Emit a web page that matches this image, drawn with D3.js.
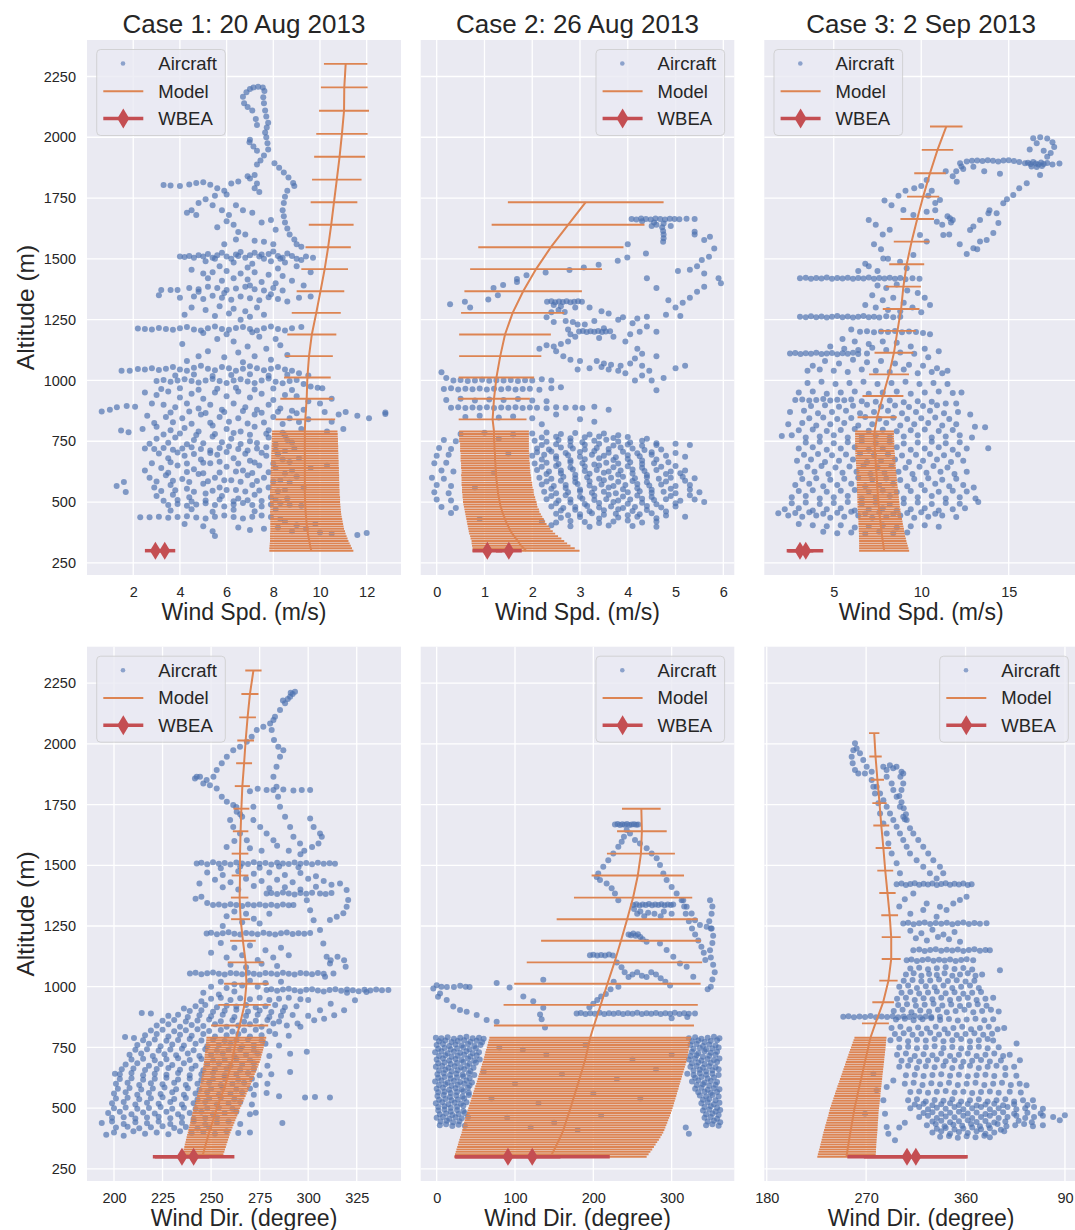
<!DOCTYPE html>
<html>
<head>
<meta charset="utf-8">
<script src="https://cdn.jsdelivr.net/npm/d3@7"></script>
<style>
body { margin: 0; background: #fff; }
</style>
</head>
<body>
<svg id="chart" width="1075" height="1230"></svg>
<script>
// titles and labels
var titles = ["Case 1: 20 Aug 2013", "Case 2: 26 Aug 2013", "Case 3: 2 Sep 2013"];
var yTicks = [250, 500, 750, 1000, 1250, 1500, 1750, 2000, 2250];
var spd1Ticks = [2, 4, 6, 8, 10, 12];
var spd2Ticks = [0, 1, 2, 3, 4, 5, 6];
var spd3Ticks = [5, 10, 15];
var dir1Ticks = [200, 225, 250, 275, 300, 325];
var dir2Ticks = [0, 100, 200, 300];
var dir3Ticks = [180, 270, 360, 450];
var dir3TickLabels = ["180", "270", "360", "90"];

// model levels (m)
var modelAltLow = [300,310,320,330,340,350,360,370,380,390,400,410,420,430,440,450,460,470,480,490,500,510,520,530,540,550,560,570,580,590,600,610,620,630,640,650,660,670,680,690,700,710,720,730,740,750,760,770,780,790];
var altUp1 = [840,925,1012,1100,1189,1278,1367,1458,1548,1640,1733,1826,1920,2014,2109,2205,2302];
var altUp2 = [840,925,1012,1100,1189,1278,1367,1458,1548,1640,1733];
var altUp3 = [849,936,1025,1114,1204,1294,1386,1478,1571,1664,1756,1852,1948,2044];

// model wind speed (m/s) and spread
var spd1Val = [9.63,9.6,9.58,9.56,9.54,9.52,9.5,9.48,9.47,9.45,9.44,9.43,9.42,9.41,9.4,9.39,9.38,9.38,9.37,9.37,9.36,9.36,9.36,9.35,9.35,9.35,9.35,9.35,9.35,9.35,9.35,9.35,9.35,9.35,9.35,9.35,9.35,9.35,9.35,9.35,9.35,9.35,9.35,9.35,9.35,9.35,9.35,9.35,9.35,9.35,
  9.37,9.43,9.46,9.53,9.65,9.84,10.02,10.2,10.35,10.48,10.6,10.72,10.84,10.94,11.03,11.04,11.1];
var spd1Err = [1.8,1.77,1.74,1.71,1.68,1.66,1.64,1.62,1.6,1.58,1.57,1.56,1.55,1.54,1.53,1.52,1.52,1.51,1.51,1.5,1.5,1.5,1.5,1.49,1.49,1.49,1.48,1.48,1.48,1.47,1.47,1.47,1.46,1.46,1.46,1.45,1.45,1.45,1.44,1.44,1.44,1.43,1.43,1.43,1.42,1.42,1.42,1.41,1.41,1.4,
  1.28,1.13,1.0,1.02,1.05,1.05,1.02,1.0,0.97,0.96,1.0,1.06,1.09,1.1,1.07,1.0,0.93];
var spd2Val = [1.87,1.82,1.77,1.73,1.7,1.66,1.62,1.58,1.55,1.52,1.5,1.47,1.45,1.43,1.41,1.39,1.37,1.36,1.34,1.33,1.32,1.31,1.3,1.29,1.28,1.28,1.27,1.26,1.26,1.25,1.25,1.24,1.24,1.24,1.23,1.23,1.23,1.22,1.22,1.22,1.22,1.21,1.21,1.21,1.21,1.2,1.2,1.2,1.2,1.2,
  1.17,1.2,1.25,1.33,1.43,1.59,1.81,2.08,2.39,2.75,3.12];
var spd2Err = [1.12,1.07,1.03,1.0,0.97,0.95,0.92,0.9,0.88,0.86,0.85,0.83,0.82,0.81,0.8,0.79,0.78,0.78,0.77,0.77,0.77,0.76,0.76,0.75,0.75,0.75,0.74,0.74,0.74,0.73,0.73,0.73,0.72,0.72,0.72,0.72,0.72,0.72,0.72,0.72,0.72,0.72,0.72,0.72,0.72,0.73,0.73,0.73,0.73,0.73,
  0.71,0.75,0.79,0.86,0.96,1.08,1.23,1.38,1.52,1.6,1.63];
var spd3Val = [7.88,7.86,7.84,7.82,7.8,7.78,7.76,7.75,7.73,7.72,7.7,7.68,7.67,7.65,7.63,7.62,7.6,7.59,7.57,7.56,7.55,7.54,7.53,7.52,7.51,7.5,7.49,7.48,7.47,7.47,7.46,7.45,7.44,7.43,7.42,7.41,7.4,7.39,7.38,7.37,7.36,7.35,7.35,7.34,7.34,7.34,7.33,7.33,7.33,7.33,
  7.48,7.81,8.16,8.44,8.64,8.85,8.98,9.17,9.45,9.77,10.11,10.5,10.93,11.43];
var spd3Err = [1.43,1.41,1.39,1.37,1.35,1.34,1.32,1.31,1.3,1.29,1.28,1.27,1.26,1.25,1.24,1.23,1.22,1.22,1.21,1.2,1.2,1.19,1.19,1.18,1.18,1.17,1.17,1.16,1.16,1.15,1.14,1.14,1.14,1.13,1.13,1.13,1.13,1.13,1.13,1.13,1.13,1.12,1.12,1.12,1.12,1.12,1.11,1.11,1.11,1.11,
  1.12,1.17,1.14,1.11,1.05,1.05,1.0,1.0,1.02,0.96,0.92,0.9,0.9,0.93];

// model wind direction (degree) and spread
var dir1Val = [245.5,245.8,246.2,246.5,246.9,247.2,247.6,247.9,248.3,248.6,249,249.4,249.8,250.2,250.6,251,251.4,251.8,252.2,252.6,253,253.5,253.9,254.4,254.8,255.3,255.7,256.2,256.6,257.1,257.5,257.9,258.2,258.6,258.9,259.3,259.6,260,260.3,260.7,261,261.2,261.4,261.7,261.9,262.1,262.3,262.6,262.8,263,
  264.7,267.2,268.2,267.8,266.4,265.2,264.7,264.9,264.9,265.2,265.6,266.1,267,267.8,268.8,270,271.8];
var dir1Err = [10.5,10.55,10.6,10.65,10.7,10.75,10.8,10.85,10.9,10.95,11,11.1,11.2,11.3,11.4,11.5,11.6,11.7,11.8,11.9,12,12.1,12.2,12.3,12.4,12.5,12.6,12.7,12.8,12.9,13,13.15,13.3,13.45,13.6,13.75,13.9,14.05,14.2,14.35,14.5,14.6,14.7,14.8,14.9,15,15.1,15.2,15.3,15.4,
  14.7,13.5,11.5,9.2,6.6,4.9,4.5,4.3,4.3,4.0,4.1,3.9,4.1,4.3,4.3,4.4,4.2];
var dir2Val = [145.3,147,148.6,150.2,151.8,153.3,154.8,156.3,157.8,159.2,160.6,161.7,162.7,163.7,164.7,165.7,166.7,167.8,168.8,169.8,170.8,171.8,172.7,173.7,174.6,175.6,176.6,177.5,178.5,179.4,180.4,181.3,182.3,183.2,184.1,185.1,186,186.9,187.8,188.8,189.7,190.4,191.1,191.8,192.5,193.2,193.9,194.6,195.3,196,
  200.8,209.4,218,227,235.3,243.2,250.8,256.8,260.8,262,261.3];
var dir2Err = [122.8,123.6,124.3,125,125.6,126.2,126.8,127.4,127.9,128.3,128.7,129,129.3,129.5,129.7,129.9,130.1,130.2,130.3,130.4,130.4,130.4,130.4,130.3,130.3,130.3,130.2,130.2,130.2,130.1,130,130,130,130,130,130,130,130,130,130,129.9,129.8,129.7,129.6,129.4,129.2,129,128.9,128.8,128.7,
  127.7,124,119,112,102,90,75.5,59,43.4,31.7,24.7];
var dir3Val = [252.2,252.5,252.9,253.2,253.6,253.9,254.3,254.6,255,255.3,255.7,256.1,256.5,256.8,257.2,257.6,258,258.4,258.7,259.1,259.5,260,260.5,261,261.5,262,262.4,262.9,263.4,263.9,264.4,264.9,265.4,265.9,266.4,266.9,267.4,267.9,268.4,268.9,269.4,269.9,270.4,270.9,271.4,271.9,272.4,272.9,273.4,273.9,
  278.4,285.4,290.2,292.7,292.7,291.3,289.3,287.3,285.6,283.7,282.1,280.2,278.5,277.3];
var dir3Err = [26.4,26.2,26,25.7,25.5,25.3,25.1,24.9,24.7,24.6,24.4,24.2,23.9,23.7,23.4,23.2,23,22.7,22.5,22.3,22.2,21.9,21.7,21.4,21.2,20.9,20.6,20.4,20.1,19.9,19.6,19.3,19.1,18.8,18.5,18.3,18,17.8,17.5,17.3,17,16.7,16.5,16.2,16,15.7,15.4,15.1,14.8,14.5,
  12.2,9.8,8.3,8.6,8.6,7.6,7.4,7.2,7.0,7.2,6.5,6.0,5.6,4.7];

// WBEA surface stations at 300 m
var wbeaAlt = 300;
var wbeaSpd1 = [2.95, 3.35], wbeaSpd1Err = [0.45, 0.45];
var wbeaSpd2 = [1.06, 1.51], wbeaSpd2Err = [0.31, 0.27];
var wbeaSpd3 = [3.07, 3.4], wbeaSpd3Err = [0.76, 1.0];
var wbeaDir1 = [235, 241], wbeaDir1Err = [14, 21];
var wbeaDir2 = [91, 122], wbeaDir2Err = [67, 99];
var wbeaDir3 = [307, 315], wbeaDir3Err = [54, 47];

// aircraft observations [value, altitude]
var air1Spd = [[6.7,2167],[6.85,2185],[7.0,2198],[7.15,2205],[7.35,2208],[7.55,2205],[7.62,2190],[7.57,2165],[7.6,2140],[7.65,2110],[7.7,2085],[7.78,2060],[7.72,2040],[7.65,2020],[7.7,2000],[7.75,1975],[7.78,1950],[7.6,1925],[7.45,1905],[7.3,1888],[6.75,2140],[6.9,2125],[7.1,2110],[7.25,2075],[7.3,2050],[7.0,1990],[6.98,1980],[7.15,1962],[7.3,1945],
[8.05,1893],[8.25,1875],[8.45,1855],[8.65,1835],[8.85,1812],[8.9,1800],[8.6,1780],[8.5,1755],[8.45,1730],[8.4,1700],[8.45,1675],[8.5,1650],[8.6,1625],[8.7,1600],[8.9,1580],[9.0,1560],[9.2,1550],
[3.3,1804],[3.6,1802],[4.0,1800],[4.4,1806],[4.7,1812],[5.0,1815],[5.3,1805],[5.6,1790],[5.9,1780],[6.2,1810],[6.5,1818],[6.9,1840],[7.2,1845],[7.0,1830],[7.3,1810],[7.2,1790],[7.4,1775],[6.0,1765],[5.5,1760],[5.1,1745],[4.8,1730],[4.5,1700],[4.3,1690],[4.7,1680],[5.4,1720],[5.8,1700],[6.1,1680],[6.4,1720],[6.7,1700],[7.1,1690],[7.5,1650],[7.9,1660],[8.1,1620],[6.3,1640],[6.5,1610],[6.8,1600],[7.2,1575],[7.6,1570],[8.0,1560],[6.4,1580],[5.9,1560],[5.6,1630],[6.0,1655],
[4.0,1510],[4.2,1508],[4.4,1512],[4.6,1505],[4.8,1515],[5.0,1510],[5.2,1520],[5.4,1505],[5.6,1515],[5.8,1525],[6.0,1510],[6.2,1500],[6.4,1518],[6.6,1528],[6.8,1505],[7.0,1515],[7.2,1525],[7.4,1510],[7.6,1500],[7.8,1520],[8.0,1530],[8.2,1512],[8.4,1505],[8.6,1522],[8.8,1512],[9.0,1500],[9.2,1495],[9.4,1510],[9.7,1505],[5.1,1490],[6.3,1485],[7.1,1480],[7.9,1490],[8.5,1485],[5.7,1470],[6.9,1465],[8.2,1460],[9.0,1470],[9.6,1445],
[4.5,1455],[5.0,1440],[5.4,1445],[6.0,1450],[6.6,1440],[7.2,1445],[7.8,1435],[8.4,1430],[5.2,1420],[5.8,1410],[6.3,1420],[6.9,1415],[7.5,1405],[8.1,1400],[8.8,1410],[9.3,1390],[3.2,1372],[3.6,1372],[3.9,1372],[4.4,1380],[4.8,1375],[5.2,1385],[5.6,1380],[6.0,1372],[6.4,1378],[6.8,1385],[7.2,1375],[7.6,1370],[8.0,1380],[8.4,1370],[3.1,1350],[4.0,1340],[4.6,1345],[5.0,1335],[5.4,1348],[5.8,1340],[6.2,1332],[6.6,1345],[7.0,1338],[7.4,1330],[7.8,1342],[8.2,1335],[8.6,1325],[9.1,1340],[9.6,1345],
[4.5,1300],[5.1,1290],[5.7,1305],[6.3,1295],[6.8,1285],[7.3,1300],[4.2,1270],[5.5,1265],[6.1,1275],[6.6,1250],[7.0,1262],[7.6,1270],
[2.2,1214],[2.5,1212],[2.8,1210],[3.1,1216],[3.4,1212],[3.7,1208],[4.0,1215],[4.3,1220],[4.6,1210],[4.9,1205],[5.2,1215],[5.5,1222],[5.8,1212],[6.1,1208],[6.4,1216],[6.7,1220],[7.0,1212],[7.3,1205],[7.6,1215],[7.9,1222],[8.2,1212],[8.5,1205],[8.8,1215],[9.2,1220],[5.0,1195],[6.0,1190],[7.1,1198],
[4.1,1150],[5.6,1170],[6.3,1160],[6.9,1140],[7.4,1180],[8.1,1170],[8.3,1145],[5.2,1120],[6.5,1115],[7.7,1130],[4.8,1100],[5.9,1095],[7.2,1100],[8.6,1105],[4.3,1080],[6.7,1075],[7.9,1085],
[2.2,1047],[2.5,1045],[2.8,1050],[3.1,1043],[3.4,1048],[3.7,1055],[4.0,1045],[4.3,1040],[4.6,1052],[4.9,1060],[5.2,1048],[5.5,1042],[5.8,1055],[6.1,1050],[6.4,1040],[6.7,1048],[7.0,1058],[7.3,1050],[7.6,1042],[7.9,1048],[8.2,1055],[8.5,1045],[8.8,1040],[9.1,1030],[9.5,1020],[1.5,1040],[1.85,1040],
[3.0,998],[3.3,1002],[3.6,995],[3.9,1000],[4.2,1005],[4.5,998],[4.8,992],[5.1,1000],[5.4,1006],[5.7,998],[6.0,990],[6.3,1000],[6.6,1005],[6.9,996],[7.2,990],[7.5,1000],[7.8,1008],[8.1,995],[8.4,988],[8.7,998],[9.0,1002],[9.3,985],[9.6,975],[9.9,970],[10.1,968],
[2.5,950],[3.0,940],[3.5,955],[4.0,930],[4.5,945],[5.0,925],[5.5,950],[6.0,935],[6.5,955],[7.0,930],[7.5,945],[8.0,920],[8.5,940],[9.0,935],[9.5,915],[10.0,905],[10.5,925],[2.8,905],[3.3,900],[3.8,890],[4.3,905],[4.8,885],[5.3,900],[5.8,880],[6.3,905],[6.8,890],[7.3,880],[7.8,900],[8.3,885],[8.8,875],[9.3,880],[10.2,870],[0.65,872],[1.0,880],[1.3,890],[1.72,895],[2.08,892],[11.1,870],[11.6,855],[12.1,845],[12.8,868],[12.8,862],[10.8,860],[2.6,855],[3.4,850],[4.1,845],[4.9,860],[5.7,850],[6.5,845],[7.2,860],[8.0,850],[8.7,845],[9.5,840],[10.5,830],[1.48,794],[1.8,787],[2.4,800],[3.0,810],[3.6,795],[4.2,805],[4.8,790],[5.4,815],[6.0,800],[6.6,790],[7.2,810],[7.8,795],[8.4,785],[9.2,800],[10.3,790],[11.0,800],
[2.5,720],[2.9,718],[3.3,722],[3.7,715],[4.1,720],[4.5,725],[4.9,718],[5.3,712],[5.7,722],[6.1,728],[6.5,718],[6.9,712],[7.3,720],[7.7,725],[8.1,715],[8.5,710],[8.9,720],[3.0,760],[3.8,765],[4.6,755],[5.4,770],[6.2,760],[7.0,750],[7.8,765],[8.6,755],[3.5,680],[4.2,690],[4.9,675],[5.6,695],[6.3,680],[7.0,670],[7.7,690],[8.4,675],[9.1,680],[3.2,640],[3.9,650],[4.6,635],[5.3,660],[6.0,645],[6.7,630],[7.4,650],[8.1,640],[8.8,630],[9.6,640],[10.3,650],[2.7,600],[3.4,610],[4.1,595],[4.8,615],[5.5,600],[6.2,590],[6.9,610],[7.6,600],[8.3,590],[9.0,605],[2.5,630],[1.29,566],[1.6,582],[1.68,541],[2.9,560],[3.6,570],[4.3,555],[5.0,575],[5.7,560],[6.4,550],[7.1,570],[7.8,560],[8.5,550],[9.3,560],
[3.5,488],[3.9,492],[4.3,485],[4.7,490],[5.1,495],[5.5,488],[5.9,482],[6.3,490],[6.7,496],[7.1,488],[7.5,482],[7.9,490],[8.3,495],[8.7,488],[9.2,485],[3.0,525],[3.7,530],[4.4,520],[5.1,535],[5.8,525],[6.5,515],[7.2,530],[7.9,520],[8.6,515],[2.3,437],[2.7,437],[3.1,440],[3.5,435],[3.9,438],[4.3,442],[4.7,436],[5.1,432],[5.5,440],[5.9,445],[6.3,438],[6.7,432],[7.1,440],[7.5,445],[7.9,438],[8.3,430],[3.6,465],[4.5,470],[5.4,460],[6.3,468],[7.2,462],[8.1,470],[4.2,410],[5.0,400],[5.4,380],[5.5,360],[6.5,395],[7.0,385],[7.6,390],[8.2,395],[8.8,380],[9.4,390],[10.0,375],[10.5,370],[11.6,365],[12.0,373],[9.0,405],[9.8,410],[8.5,420]];
var air1SpdCore = [[3.3,505],[3.9,508],[4.5,502],[5.1,506],[5.7,510],[6.3,503],[6.9,507],[7.5,504],[8.1,509],
[3.2,545],[3.8,548],[4.6,542],[5.4,546],[6.0,550],[6.8,543],[7.4,547],[8.2,544],
[3.0,585],[3.7,588],[4.4,582],[5.2,586],[5.9,590],[6.6,583],[7.3,587],[8.0,584],[8.7,580],
[3.5,620],[4.3,624],[5.0,618],[5.7,622],[6.4,626],[7.1,619],[7.8,623],[8.5,617],
[2.8,660],[3.6,664],[4.3,658],[5.0,662],[5.7,666],[6.5,659],[7.2,663],[8.0,657],[8.7,665],
[3.1,700],[3.9,704],[4.6,698],[5.3,702],[6.0,706],[6.8,699],[7.5,703],[8.2,697],
[2.7,740],[3.5,744],[4.3,738],[5.0,742],[5.8,746],[6.6,739],[7.3,743],[8.1,737],[8.8,745],
[3.3,778],[4.0,782],[4.7,776],[5.5,780],[6.3,784],[7.0,777],[7.7,781],[8.5,775],
[2.9,825],[3.7,828],[4.5,822],[5.3,826],[6.1,830],[6.9,823],[7.6,827],[8.4,821],[9.1,829],
[3.6,868],[4.4,872],[5.1,866],[5.9,870],[6.7,874],[7.5,867],[8.2,871],[9.0,865],
[3.2,965],[4.0,968],[4.8,962],[5.6,966],[6.4,970],[7.2,963],[8.0,967],[8.8,961],
[3.8,1020],[4.6,1024],[5.4,1018],[6.2,1022],[7.0,1026],[7.8,1019],[8.6,1023],
[5.5,1500],[6.5,1512],[7.5,1518],[8.3,1500],[4.8,1365],[5.9,1360],[7.0,1390],[7.9,1355]];

var air2Spd = [[4.08,1664],[4.18,1662],[4.28,1666],[4.38,1664],[4.48,1662],[4.58,1666],[4.68,1664],[4.78,1662],[4.88,1665],[4.98,1664],[5.08,1663],[5.23,1665],[5.4,1664],[4.3,1655],[4.55,1650],[4.75,1645],
[4.72,1630],[4.74,1615],[4.75,1600],[4.75,1585],[4.74,1570],[4.6,1640],[4.5,1635],[4.9,1635],[5.4,1612],[5.4,1600],[5.6,1578],[5.72,1591],[5.81,1543],[5.7,1509],[5.55,1495],[5.45,1470],[5.3,1455],[5.05,1450],[5.6,1440],[5.9,1420],[5.95,1400],[5.6,1385],[5.45,1365],[5.3,1340],[5.15,1320],[5.0,1300],[4.85,1330],[4.6,1380],[4.4,1420],[4.0,1560],
[0.28,1313],[0.59,1324],[0.7,1300],[1.08,1333],[1.19,1380],[1.28,1350],[1.39,1393],[1.68,1417],[1.68,1405],[1.88,1433],[2.28,1444],[2.78,1454],[3.08,1465],[3.39,1476],[3.79,1492],[3.99,1506],[4.38,1522],
[2.31,1324],[2.4,1326],[2.48,1322],[2.56,1325],[2.64,1323],[2.72,1326],[2.8,1322],[2.88,1324],[2.96,1326],[3.04,1324],[2.45,1310],[2.6,1305],[2.9,1300],
[3.2,1300],[3.45,1285],[3.6,1275],[3.9,1260],[4.2,1255],[4.4,1262],[4.8,1270],[5.1,1265],[3.1,1230],[3.3,1245],[3.5,1215],[3.8,1250],[4.1,1235],[4.4,1222],[4.6,1200],[4.05,1190],[4.25,1200],[3.7,1180],[3.4,1175],[3.95,1160],
[2.98,1201],[3.06,1203],[3.14,1199],[3.22,1202],[3.3,1200],[3.38,1203],[3.46,1199],[3.54,1201],[3.63,1202],
[2.4,1280],[2.55,1290],[2.68,1282],[2.3,1260],[2.45,1240],[2.7,1245],[2.85,1240],[2.95,1230],[2.75,1210],[2.8,1190],[2.9,1180],[2.75,1160],[2.6,1150],[2.45,1140],[2.3,1145],[2.15,1130],[2.5,1120],[2.65,1100],[2.8,1085],[3.0,1080],[3.35,1080],[3.5,1070],[3.65,1065],[3.85,1060],[4.05,1070],[3.95,1030],[3.8,1040],[3.6,1045],[3.45,1055],[3.2,1050],[2.95,1045],
[4.2,1130],[4.3,1110],[4.15,1090],[4.3,1060],[4.45,1040],[4.3,1020],[4.15,1000],[4.5,1000],[4.6,960],[4.75,1010],[5.0,1050],[5.2,1060],[4.6,1100],
[0.1,1034],[0.2,1010],[0.35,1000],[0.5,1002],[0.65,998],[0.8,1000],[0.95,1003],[1.1,999],[1.25,1001],[1.4,1000],[1.55,1002],[1.7,998],[1.85,1001],[2.0,1000],[2.2,1005],[2.4,1000],[0.15,965],[0.3,968],[0.45,963],[0.6,966],[0.75,964],[0.9,967],[1.05,963],[1.2,966],[1.35,964],[1.5,967],[1.65,963],[1.8,965],[1.95,966],[2.15,962],[2.4,968],[2.6,972],[0.2,920],[0.5,925],[0.8,918],[1.1,922],[1.4,920],[1.7,924],[2.0,918],[2.3,915],[0.3,888],[0.45,890],[0.6,887],[0.75,889],[0.9,888],[1.05,890],[1.2,887],[1.35,889],[1.5,888],[1.65,890],[1.8,887],[1.95,889],[2.1,888],[2.3,886],[2.5,890],[2.7,888],[2.9,889],[3.05,887],[3.3,892],[3.6,880],[0.6,850],[0.9,855],[1.3,848],[1.6,852],[2.0,845],[2.5,860],[3.0,840],[3.3,830],[2.2,820],
[0.5,780],[1.0,785],[1.6,778],[2.0,782],[2.3,786],[2.6,780],[2.9,784],[3.2,778],[3.5,782],[3.8,775],
[0.15,755],[0.4,750],[2.05,752],[2.3,748],[2.55,755],[2.8,750],[3.05,746],[3.3,752],[3.55,756],[3.8,749],[4.05,745],[4.3,752],[4.6,742],[5.0,740],[5.3,735],
[0.05,722],[0.3,718],[2.1,720],[2.35,716],[2.6,724],[2.85,720],[3.1,716],[3.35,722],[3.6,718],[3.85,724],[4.1,720],[4.35,714],[4.7,716],
[0.0,690],[0.25,694],[2.0,690],[2.25,695],[2.5,688],[2.75,692],[3.0,686],[3.25,694],[3.5,690],[3.75,684],[4.0,692],[4.25,688],[4.5,694],[4.8,690],[5.2,686],
[-0.05,660],[0.2,662],[2.05,658],[2.3,662],[2.55,656],[2.8,664],[3.05,660],[3.3,654],[3.55,662],[3.8,658],[4.05,664],[4.3,656],[4.55,660],[4.85,664],
[0.1,630],[0.35,626],[2.1,632],[2.35,626],[2.6,630],[2.85,634],[3.1,628],[3.35,632],[3.6,626],[3.85,630],[4.1,634],[4.35,628],[4.6,632],[4.9,626],[5.2,630],
[-0.1,600],[0.15,596],[2.15,600],[2.4,596],[2.65,604],[2.9,598],[3.15,602],[3.4,596],[3.65,600],[3.9,604],[4.15,598],[4.4,602],[4.65,596],[4.9,600],[5.15,604],[5.4,598],
[0.0,570],[0.3,566],[2.2,572],[2.45,566],[2.7,570],[2.95,574],[3.2,568],[3.45,572],[3.7,566],[3.95,570],[4.2,574],[4.45,568],[4.7,572],[5.0,566],[5.3,570],
[-0.05,540],[0.25,536],[2.25,542],[2.5,536],[2.75,540],[3.0,544],[3.25,538],[3.5,542],[3.75,536],[4.0,540],[4.25,544],[4.5,538],[4.75,542],[5.0,536],[5.5,540],
[0.0,510],[0.3,506],[2.3,512],[2.55,506],[2.8,510],[3.05,514],[3.3,508],[3.55,512],[3.8,506],[4.05,510],[4.3,514],[4.55,508],[4.8,512],[5.1,505],[5.6,500],[5.4,510],
[0.1,480],[0.4,476],[2.4,482],[2.65,476],[2.9,480],[3.15,484],[3.4,478],[3.65,482],[3.9,476],[4.15,480],[4.4,484],[4.7,478],[5.0,482],
[0.3,455],[2.5,452],[2.75,446],[3.0,450],[3.25,454],[3.5,448],[3.75,452],[4.0,446],[4.25,450],[4.5,454],[4.8,445],[5.2,440],
[2.2,420],[2.5,416],[2.8,422],[3.1,418],[3.4,414],[3.7,420],[4.0,424],[4.3,416],[4.6,420],
[2.4,405],[2.8,400],[3.2,398],[3.6,404],[4.1,402],[4.6,398],
[0.8,560],[1.2,620],[1.5,700],[0.9,430],[1.3,760]];
var air2SpdCore = [[2.2,765],[2.5,768],[2.8,762],[3.1,766],[3.4,770],[3.7,763],[4.0,767],[4.4,760],
[2.2,735],[2.5,738],[2.8,732],[3.1,736],[3.4,740],[3.7,733],[4.0,737],[4.3,731],[4.6,735],
[2.1,705],[2.4,708],[2.7,702],[3.0,706],[3.3,710],[3.6,703],[3.9,707],[4.2,701],[4.5,705],[5.0,702],
[2.2,675],[2.5,678],[2.8,672],[3.1,676],[3.4,680],[3.7,673],[4.0,677],[4.3,671],[4.6,675],
[2.2,645],[2.5,648],[2.8,642],[3.1,646],[3.4,650],[3.7,643],[4.0,647],[4.3,641],[4.7,645],[5.0,648],
[2.3,615],[2.6,618],[2.9,612],[3.2,616],[3.5,620],[3.8,613],[4.1,617],[4.4,611],[4.8,615],[5.1,618],
[2.3,585],[2.6,588],[2.9,582],[3.2,586],[3.5,590],[3.8,583],[4.1,587],[4.4,581],[4.8,585],[5.2,588],
[2.4,555],[2.7,558],[3.0,552],[3.3,556],[3.6,560],[3.9,553],[4.2,557],[4.5,551],[4.9,555],[5.3,552],
[2.4,525],[2.7,528],[3.0,522],[3.3,526],[3.6,530],[3.9,523],[4.2,527],[4.5,521],[4.9,525],[5.3,528],
[2.5,495],[2.8,498],[3.1,492],[3.4,496],[3.7,500],[4.0,493],[4.3,497],[4.6,491],[5.0,495],
[2.6,465],[2.9,468],[3.2,462],[3.5,466],[3.8,470],[4.1,463],[4.4,467],[4.8,461],
[2.6,435],[3.0,438],[3.4,432],[3.8,436],[4.2,440],[4.6,433]];

var air3Spd = [[15.93,1893],[16.1,1895],[16.25,1890],[16.4,1898],[16.55,1892],[16.7,1888],[16.85,1896],[17.0,1890],[17.2,1894],[17.5,1888],[17.9,1892],[16.3,1880],[16.6,1878],[16.9,1882],
[16.4,1996],[16.8,2000],[17.2,1995],[17.5,1980],[17.6,1960],[17.4,1935],[17.2,1920],[17.0,1945],[16.6,1975],[16.2,1950],
[12.6,1900],[12.9,1903],[13.2,1905],[13.5,1902],[13.8,1906],[14.1,1903],[14.4,1900],[14.7,1904],[15.0,1906],[15.3,1902],[15.6,1898],[12.3,1880],[12.0,1860],[11.8,1840],
[15.26,1763],[16.03,1811],[16.79,1845],[14.69,1729],[14.31,1688],[14.41,1647],[14.12,1606],[13.74,1578],[13.36,1571],[12.98,1544],[12.79,1619],[12.98,1633],[13.36,1660],[13.84,1688],[10.31,1824],[11.07,1742],[12.03,1817],[12.98,1879],[12.22,1893],[11.64,1667],[11.8,1660],[11.5,1675],[11.7,1650],
[15.6,1790],[14.9,1745],[13.9,1700],[13.2,1540],[12.6,1520],[12.2,1560],[11.6,1600],[11.2,1640],[10.8,1700],[10.6,1780],[11.4,1860],[12.4,1870],[13.6,1860],[14.5,1850],
[8.98,1701],[9.55,1680],[10.31,1694],[10.89,1653],[11.26,1598],[10.31,1571],[9.93,1598],[9.55,1516],[9.17,1461],[8.79,1488],[7.83,1502],
[7.0,1660],[7.4,1640],[7.8,1600],[8.2,1620],[7.3,1560],[7.7,1540],[8.1,1500],[7.0,1470],[7.5,1450],[6.4,1450],[6.8,1480],[7.9,1740],[8.3,1720],[8.7,1760],[9.1,1780],[9.6,1790],[10.0,1800],[10.4,1760],[10.8,1730],
[3.07,1420],[3.4,1422],[3.7,1418],[4.0,1421],[4.3,1419],[4.6,1423],[4.9,1418],[5.2,1421],[5.5,1419],[5.8,1422],[6.1,1418],[6.4,1421],[6.7,1419],[7.0,1423],[7.3,1418],[7.6,1421],[7.9,1419],[8.2,1422],[8.5,1418],[8.8,1421],[9.1,1416],[9.5,1420],[9.9,1418],
[7.5,1390],[8.0,1380],[8.6,1395],[9.2,1370],[9.8,1360],[10.2,1340],[10.5,1310],[7.2,1350],[7.8,1330],[8.4,1340],[9.0,1320],[9.5,1300],[6.8,1310],[7.4,1300],[8.1,1290],[8.8,1285],[10.0,1280],
[3.07,1262],[3.4,1260],[3.7,1264],[4.0,1260],[4.3,1263],[4.6,1259],[4.9,1262],[5.2,1265],[5.5,1260],[5.8,1263],[6.1,1259],[6.4,1262],[6.7,1265],[7.0,1260],[7.3,1262],[7.6,1259],[8.0,1264],[8.4,1260],[8.8,1262],
[6.5,1200],[6.9,1202],[7.3,1198],[7.7,1201],[8.1,1199],[8.5,1203],[8.9,1198],[9.3,1201],[9.7,1199],[10.1,1195],[10.5,1190],[6.0,1210],
[2.5,1111],[2.8,1113],[3.1,1109],[3.4,1112],[3.7,1110],[4.0,1114],[4.3,1109],[4.6,1111],[4.9,1113],[5.2,1108],[5.5,1112],[5.8,1110],[6.1,1114],[6.4,1109],[6.9,1111],
[5.5,1170],[6.2,1160],[7.0,1150],[7.8,1160],[8.6,1155],[9.4,1140],[10.2,1130],[11.0,1120],[4.8,1140],[5.6,1130],[6.4,1125],[7.2,1135],[8.0,1125],[8.8,1115],[9.6,1110],[10.4,1095],[4.5,1080],[5.3,1070],[6.1,1085],[6.9,1075],[7.7,1080],[8.5,1070],[9.3,1065],[10.1,1060],[10.9,1050],[11.5,1040],[3.8,1060],
[3.5,1040],[4.2,1045],[5.0,1040],[5.8,1035],[6.6,1045],[7.4,1040],[8.2,1035],[9.0,1045],[9.8,1030],[10.6,1035],[11.2,1030],
[3.5,990],[4.3,995],[5.1,985],[5.9,990],[6.7,995],[7.5,985],[8.3,990],[9.1,995],[9.9,985],[10.7,990],[11.5,985],
[3.0,950],[3.8,955],[4.6,945],[5.4,950],[6.2,955],[7.0,945],[7.8,950],[8.6,955],[9.4,945],[10.2,950],[11.0,955],[11.8,948],[12.3,950],
[2.8,920],[3.2,922],[3.6,918],[4.0,920],[4.4,924],[4.8,918],[5.2,921],[5.6,919],[6.0,922],[6.6,915],[7.4,912],[8.2,918],[9.0,910],[9.8,915],[10.6,912],[11.4,905],[12.0,905],
[2.5,870],[3.3,875],[4.1,865],[4.9,870],[5.7,875],[6.5,865],[7.3,870],[8.1,875],[8.9,865],[9.7,870],[10.5,875],[11.3,865],[12.1,870],[12.8,860],
[2.4,820],[3.2,825],[4.0,815],[4.8,820],[5.6,825],[6.4,815],[7.2,820],[8.0,825],[8.8,815],[9.6,820],[10.4,825],[11.2,815],[12.0,820],[13.07,810],[13.65,808],
[2.03,772],[2.6,775],[3.4,765],[4.2,770],[5.0,775],[5.8,765],[6.6,770],[7.4,775],[8.2,765],[9.0,770],[9.8,775],[10.6,765],[11.4,770],[12.2,775],[12.9,765],
[3.0,720],[3.8,725],[4.6,715],[5.4,720],[6.2,725],[7.0,715],[7.8,720],[8.6,725],[9.4,715],[10.2,720],[11.0,725],[11.8,715],[12.6,720],[13.83,721],
[2.9,670],[3.7,675],[4.5,665],[5.3,670],[6.1,675],[6.9,665],[7.7,670],[8.5,675],[9.3,665],[10.1,670],[10.9,675],[11.7,665],[12.4,670],
[3.1,620],[3.9,625],[4.7,615],[5.5,620],[6.3,625],[7.1,615],[7.9,620],[8.7,625],[9.5,615],[10.3,620],[11.1,625],[11.9,615],[12.6,625],
[2.8,570],[3.6,575],[4.4,565],[5.2,570],[6.0,575],[6.8,565],[7.6,570],[8.4,575],[9.2,565],[10.0,570],[10.8,575],[11.6,565],[12.4,570],[13.0,560],
[2.6,520],[3.4,525],[4.2,515],[5.0,520],[5.8,525],[6.6,515],[7.4,520],[8.2,525],[9.0,515],[9.8,520],[10.6,525],[11.4,515],[12.2,520],[13.1,515],[13.26,500],
[2.2,470],[3.0,475],[3.8,465],[4.6,470],[5.4,475],[6.2,465],[7.0,470],[7.8,475],[8.6,465],[9.4,470],[10.2,475],[11.0,465],[11.8,470],[12.5,475],
[1.83,454],[2.4,445],[3.2,440],[4.0,445],[4.8,435],[5.6,440],[6.4,445],[7.2,435],[8.0,440],[8.8,445],[9.6,435],[10.4,440],[11.2,445],[12.0,438],
[3.0,410],[3.8,405],[4.6,400],[5.4,405],[6.2,395],[7.0,400],[7.8,405],[8.6,395],[9.4,400],[10.2,405],[11.0,398],
[4.4,378],[5.2,372],[6.0,375],[6.8,370],[7.6,378],[8.4,372],[9.2,375]];
var air3SpdCore = [[3.7,895],[4.5,898],[5.3,892],[6.1,896],[6.9,900],[7.7,893],[8.5,897],[9.3,891],[10.1,895],[10.9,898],
[3.6,845],[4.4,848],[5.2,842],[6.0,846],[6.8,850],[7.6,843],[8.4,847],[9.2,841],[10.0,845],[10.8,848],[11.6,842],
[3.0,795],[3.8,798],[4.6,792],[5.4,796],[6.2,800],[7.0,793],[7.8,797],[8.6,791],[9.4,795],[10.2,798],[11.0,792],[11.8,796],
[3.4,745],[4.2,748],[5.0,742],[5.8,746],[6.6,750],[7.4,743],[8.2,747],[9.0,741],[9.8,745],[10.6,748],[11.4,742],[12.2,746],
[3.3,695],[4.1,698],[4.9,692],[5.7,696],[6.5,700],[7.3,693],[8.1,697],[8.9,691],[9.7,695],[10.5,698],[11.3,692],[12.1,696],
[3.5,645],[4.3,648],[5.1,642],[5.9,646],[6.7,650],[7.5,643],[8.3,647],[9.1,641],[9.9,645],[10.7,648],[11.5,642],
[3.2,595],[4.0,598],[4.8,592],[5.6,596],[6.4,600],[7.2,593],[8.0,597],[8.8,591],[9.6,595],[10.4,598],[11.2,592],[12.0,596],
[3.0,545],[3.8,548],[4.6,542],[5.4,546],[6.2,550],[7.0,543],[7.8,547],[8.6,541],[9.4,545],[10.2,548],[11.0,542],[11.8,546],[12.6,543],
[2.6,495],[3.4,498],[4.2,492],[5.0,496],[5.8,500],[6.6,493],[7.4,497],[8.2,491],[9.0,495],[9.8,498],[10.6,492],[11.4,496],[12.2,493],
[2.8,455],[3.6,458],[4.4,452],[5.2,456],[6.0,460],[6.8,453],[7.6,457],[8.4,451],[9.2,455],[10.0,458],[10.8,452]];

var air1Dir = [[293.2,2215],[290.7,2194],[288.1,2167],[285.5,2139],[282.9,2112],[280.4,2084],[276.9,2070],[273.5,2057],[270.9,2029],[268.4,2009],[264.9,1988],[261.4,1974],[258.1,1947],[255.5,1920],[252.9,1892],[251.2,1864],[247.7,1851],[244.3,1864],[241.7,1857],[292,2205],[291,2210],[289.5,2185],[287,2178],
[282.1,2098],[281.2,2057],[282.4,2016],[284.6,1988],[287.2,1974],[285.5,1947],[283.7,1906],[282.1,1864],[283.7,1823],[284.5,1782],[285.5,1741],[288.1,1700],[290.7,1658],[292.4,1617],[295.8,1590],
[301,1693],[302.8,1658],[306.1,1631],[307,1617],[305.3,1590],[302,1575],[298,1560],
[278.6,1810],[282.1,1810],[287.2,1812],[292.4,1808],[296.7,1810],[301,1810],[274,1815],[270,1805],
[242.6,1864],[246,1837],[249.4,1830],[252.9,1816],[255.5,1782],[258.1,1762],[261.4,1748],[263.2,1720],[259.8,1686],[261.4,1658],[264.9,1631],[268.4,1603],[271.8,1686],[275.3,1658],[278.6,1631],[282.1,1603],[271.8,1741],[266,1700],[262,1600],[258,1575],[270,1570],[276,1560],[284,1580],[290,1560],[296,1545],[263,1740],[265,1710],
[242.6,1507],[245,1510],[248,1504],[251,1512],[254,1506],[257,1509],[260,1503],[263,1511],[266,1507],[269,1505],[272,1512],[275,1506],[278,1509],[281,1503],[284,1510],[287,1507],[290,1505],[293,1511],[296,1506],[299,1509],[302,1504],[305,1510],[308,1506],[311,1508],[313.8,1506],[265,1495],[275,1490],[285,1495],[295,1492],[255,1488],
[248,1470],[256,1460],[264,1475],[272,1465],[280,1470],[288,1460],[296,1468],[304,1455],[252,1440],[260,1430],[268,1445],[276,1435],[284,1440],[292,1430],[300,1445],[308,1435],[256,1410],[264,1400],[272,1415],[280,1405],[288,1410],[296,1400],[304,1412],[244,1425],[312,1420],
[278.6,1384],[281,1386],[284,1382],[287,1388],[290,1384],[293,1380],[296,1386],[299,1383],[302,1387],[306.1,1384],[309,1382],[312,1386],
[251,1336],[254,1338],[257,1334],[260,1340],[263,1336],[266,1332],[269,1338],[272,1335],[275,1339],[278,1334],[281,1337],[284,1333],[287,1338],[290,1335],[292.4,1336],[242,1362],[245,1370],[248,1345],
[262,1310],[268,1300],[258,1290],[272,1280],[280,1300],[266,1265],[275,1260],[256,1250],
[247.7,1219],[250,1222],[253,1216],[256,1220],[259,1224],[262,1218],[265,1215],[268,1221],[271,1219],[274,1216],[277,1222],[280,1218],[283,1215],[286,1220],[289,1223],[292,1217],[295,1220],[298,1218],[301,1221],
[255,1180],[262,1160],[270,1170],[278,1150],[286,1160],[250,1140],[258,1120],[266,1130],[274,1110],[282,1120],[290,1130],[260,1090],[268,1080],[276,1095],[284,1085],
[239.1,1054],[242,1057],[245,1051],[248,1055],[251,1059],[254,1053],[257,1050],[260,1056],[263,1054],[266,1051],[269,1057],[272,1053],[275,1050],[278,1056],[281,1054],[284,1051],[287,1057],[290,1053],[293,1050],[296,1056],[299,1054],[302,1051],[305,1056],[308,1053],[313,1054],
[278.6,986],[281,990],[284,983],[287,988],[290,992],[293,985],[296,981],[299,987],[302,990],[305,984],[308,980],[311,986],[314,990],[317,983],[320,988],[323,985],[326,981],[329,987],[332,984],[335,989],[338,985],[341.3,986],[320,975],[330,978],
[255,1020],[262,1010],[270,1025],[278,1015],[286,1020],[250,1000],[258,995],[266,1005],[274,1000],[246,975],[254,968],[262,980],
[299.3,1356],[301,1315],[302.8,1274],[306.1,1233],[307.8,1178],[309.5,1123],[311.2,1096],[308.7,1041],[318.5,1109],[319.3,1082],[311.6,1109],[315.1,1123],[324.1,944],[318.5,903],[313.4,882],[308.2,868],[303.1,862],[294.5,848],[306.1,903],[311.6,930],[316.4,1425],[319.8,1398],[320.6,1357],[319.8,1329],[318.1,1302],[314.7,1288],[311.2,1275],
[250,950],[255,955],[260,945],[265,952],[270,948],[275,955],[280,945],[285,950],[290,955],[296,948],[245,940],[300,945],
[242,920],[247,925],[253,915],[258,922],[263,918],[268,925],[273,915],[278,920],[283,925],[288,915],[294,920],[236,910],
[228,880],[233,885],[238,875],[244,882],[250,878],[256,885],[262,875],[268,880],[274,885],[280,875],[286,880],[292,884],[300,880],[214.3,892],[219,890],
[222,840],[228,845],[234,835],[240,842],[246,838],[252,845],[258,835],[264,840],[270,845],[276,835],[282.1,848],[289,840],[296,835],
[210.3,789],[205.7,793],[216,800],[222,805],[228,795],[234,802],[240,798],[246,805],[252,795],[258,800],[264,805],[270,795],[276,800],[283,805],[290,798],
[212,760],[218,765],[224,755],[230,762],[236,758],[242,765],[248,755],[254,760],[260,765],[266,755],[272,760],[278,765],[285,758],
[208,720],[214,725],[220,715],[226,722],[232,718],[238,725],[244,715],[250,720],[256,725],[262,715],[268,720],[274,725],[280,715],[290.7,724],[299.3,732],
[206,680],[212,685],[218,675],[224,682],[230,678],[236,685],[242,675],[248,680],[254,685],[260,675],[266,680],[272,685],[279,675],
[200.5,642],[203,640],[209,645],[215,635],[221,642],[227,638],[233,645],[239,635],[245,640],[251,645],[257,635],[263,640],[269,645],[275,635],[281,640],[290.7,649],
[201,600],[207,605],[213,595],[219,602],[225,598],[231,605],[237,595],[243,600],[249,605],[255,595],[261,600],[267,605],[273,595],[279,600],
[200,560],[206,565],[212,555],[218,562],[224,558],[230,565],[236,555],[242,560],[248,565],[254,555],[260,560],[266,565],[272,555],[278.6,562],[285,549],[298.4,544],[303.5,546],[311.2,544],
[199,520],[205,525],[211,515],[217,522],[223,518],[229,525],[235,515],[241,520],[247,525],[253,515],[259,520],[265,525],[271,515],
[197,480],[203,485],[209,475],[215,482],[221,478],[227,485],[233,475],[239,480],[245,485],[251,475],[257,480],[263,485],[270,475],[273,481],
[193.7,439],[199,445],[205,435],[211,442],[217,438],[223,445],[229,435],[235,440],[241,445],[247,435],[253,440],[259,445],[265,435],[286.7,439],
[196,390],[200,400],[205,386],[210,405],[216,395],[222,400],[228,392],[234,405],[240,398],[246,402],[252,395],[258,405],[264,398],[270,400]];
var air1DirCore = [[239,900],[245,903],[251,897],[257,901],[263,905],[269,898],[275,902],[281,896],[287,900],
[225,860],[231,863],[237,857],[243,861],[249,865],[255,858],[261,862],[267,856],[273,860],[279,863],[285,857],
[219,820],[225,823],[231,817],[237,821],[243,825],[249,818],[255,822],[261,816],[267,820],[273,823],[280,817],
[215,780],[221,783],[227,777],[233,781],[239,785],[245,778],[251,782],[257,776],[263,780],[269,783],[276,777],
[211,740],[217,743],[223,737],[229,741],[235,745],[241,738],[247,742],[253,736],[259,740],[265,743],[272,737],
[209,700],[215,703],[221,697],[227,701],[233,705],[239,698],[245,702],[251,696],[257,700],[263,703],[270,697],
[204,660],[210,663],[216,657],[222,661],[228,665],[234,658],[240,662],[246,656],[252,660],[258,663],[265,657],[272,661],
[203,620],[209,623],[215,617],[221,621],[227,625],[233,618],[239,622],[245,616],[251,620],[257,623],[264,617],[271,621],
[202,580],[208,583],[214,577],[220,581],[226,585],[232,578],[238,582],[244,576],[250,580],[256,583],[263,577],[270,581],
[201,540],[207,543],[213,537],[219,541],[225,545],[231,538],[237,542],[243,536],[249,540],[255,543],[262,537],
[200,500],[206,503],[212,497],[218,501],[224,505],[230,498],[236,502],[242,496],[248,500],[254,503],[261,497],
[199,460],[205,463],[211,457],[217,461],[223,465],[229,458],[235,462],[241,456],[247,460],[253,463],
[201,420],[207,423],[213,417],[219,421],[225,425],[231,418],[237,422],[243,416],[249,420]];

var air2Dir = [[227.6,1668],[231,1670],[234,1666],[237,1669],[240,1667],[243,1670],[246,1666],[249,1668],[252,1669],[255,1667],[257.4,1668],
[242.6,1645],[239.1,1617],[236.2,1597],[231.9,1576],[225.5,1549],[219.1,1521],[212.7,1494],[206.3,1466],[204.3,1452],[208.5,1439],[217,1425],[223.4,1405],[227.6,1384],[231.9,1356],
[246.8,1631],[253.2,1604],[259.5,1590],[268.1,1570],[274.5,1549],[280.9,1529],[285.1,1501],[289.4,1466],[293.6,1439],[300,1411],[306.4,1384],[312.8,1356],[319.2,1329],[325.5,1301],[329.8,1274],[336.1,1254],[344.7,1247],[351.1,1240],
[251,1336],[255,1340],[259,1334],[263,1338],[267,1336],[271,1341],[275,1335],[279,1338],[283,1336],[287,1340],[291,1335],[295,1338],[299,1336],[302,1338],[252,1320],[256,1300],[260,1310],[265,1290],[270,1305],[278,1300],[286,1290],[290,1310],[300,1300],
[349,1356],[352,1330],[351,1300],[348,1270],[350,1240],[353,1210],[352,1180],[349,1150],[350,1120],[353,1090],[355,1060],[352,1030],[350,1000],[346,990],
[314.8,1356],[316,1330],[318,1300],[322,1270],[326,1240],[330,1215],[334,1190],[338,1165],[341,1140],[343,1110],
[245,1215],[248,1212],[251,1219],[254,1210],[257,1216],[260,1205],[263,1195],[268,1185],
[285.1,1178],[293.6,1151],[302.1,1123],[310.6,1096],[319.2,1082],[327.6,1041],
[195.7,1130],[200,1132],[205,1128],[210,1131],[215,1129],[220,1133],[225,1128],
[230,1100],[236,1080],[240,1060],[245,1040],[250,1050],[256,1060],[262,1045],[268,1040],[274,1060],[280,1050],[286,1035],[292,1020],[298,1005],[226,1020],[232,1000],[222,990],[216,970],[210,960],[205,945],[200,930],[195,915],
[178.7,890],[184,892],[190,888],[196,891],[202,889],[208,893],[214,888],[220,891],[226,889],[232,892],[238,888],[244,891],[250,889],[256,893],[262,888],[268,891],[274,889],[280,892],[286,888],[292,891],[298,889],[304,893],[310,888],[316,891],[322,889],[329.8,890],[300,870],[320,875],
[0,1006],[6,1000],[13,999],[22,999],[30,1004],[37,1000],[42,999],
[4.3,972],[12.8,945],[21.2,918],[29.8,904],[38.3,897],[51.1,883],[63.8,863],[76.6,856],
[-4.3,993],[1.7,959],[76.6,1015],[93.1,997],[110.6,960],[123.3,940],[136.1,1029],[136.1,913],[132,886],[134,866],[138.3,832],
[-1,790],[6,788],[14,792],[22,786],[30,790],[38,794],[46,788],[54,790],[60,786],
[0,760],[8,764],[16,756],[24,762],[32,758],[40,764],[48,756],[56,760],
[-2,730],[6,734],[14,726],[22,732],[30,728],[38,734],[46,726],[54,730],
[0,700],[8,704],[16,696],[24,702],[32,698],[40,704],[48,696],[55,700],
[-1,670],[7,674],[15,666],[23,672],[31,668],[39,674],[47,666],
[1,640],[9,644],[17,636],[25,642],[33,638],[41,644],[48,636],
[-2,610],[6,614],[14,606],[22,612],[30,608],[38,614],[45,606],
[0,580],[8,584],[16,576],[24,582],[32,578],[40,584],
[1,550],[9,554],[17,546],[25,552],[33,548],[41,554],
[-1,520],[7,524],[15,516],[23,522],[31,518],[38,524],
[2,490],[10,494],[18,486],[26,492],[34,488],
[0,460],[8,464],[16,456],[24,462],[32,458],[40,464],
[4,430],[12,434],[20,426],[28,432],[36,428],
[322,788],[330,792],[338,786],[346,790],[354,794],[361,788],
[324,760],[332,764],[340,756],[348,762],[356,758],
[326,732],[334,726],[342,734],[350,728],[358,732],
[322,700],[330,704],[338,696],[346,702],[354,698],[361,704],
[324,670],[332,674],[340,666],[348,672],[356,668],
[320,642],[328,636],[336,644],[344,638],[352,642],[360,636],
[326,610],[334,614],[342,606],[350,612],[358,608],
[330,580],[338,584],[346,576],[354,582],[361,578],
[336,552],[344,548],[352,554],[360,548],
[338,520],[346,524],[354,516],[361,522],
[340,490],[348,494],[356,486],[362,492],
[342,460],[350,464],[358,456],
[344,430],[352,434],[360,428],[318,420],[322,395],
[80,750],[110,740],[140,720],[190,760],[250,700],[300,720],[60,650],[100,600],[160,640],[230,620],[280,660],[70,540],[130,520],[200,560],[260,540],[90,460],[150,440],[210,470],[120,420],[180,410]];
var air2DirCore = [[3,775],[11,778],[19,772],[27,776],[35,780],[43,773],[51,777],[58,771],
[2,745],[10,748],[18,742],[26,746],[34,750],[42,743],[50,747],
[3,715],[11,718],[19,712],[27,716],[35,720],[43,713],[51,717],
[2,685],[10,688],[18,682],[26,686],[34,690],[42,683],[50,687],
[3,655],[11,658],[19,652],[27,656],[35,660],[43,653],
[2,625],[10,628],[18,622],[26,626],[34,630],[42,623],
[3,595],[11,598],[19,592],[27,596],[35,600],[42,593],
[2,565],[10,568],[18,562],[26,566],[34,570],[41,563],
[3,535],[11,538],[19,532],[27,536],[35,540],
[2,505],[10,508],[18,502],[26,506],[34,510],
[4,475],[12,478],[20,472],[28,476],[36,480],
[5,445],[13,448],[21,442],[29,446],
[326,775],[334,778],[342,772],[350,776],[358,780],
[328,745],[336,748],[344,742],[352,746],[360,750],
[324,715],[332,718],[340,712],[348,716],[356,720],
[326,685],[334,688],[342,682],[350,686],[358,690],
[328,655],[336,658],[344,652],[352,656],[360,660],
[330,625],[338,628],[346,622],[354,626],
[332,595],[340,598],[348,592],[356,596],
[334,565],[342,568],[350,562],[358,566],
[340,535],[348,538],[356,532],
[342,505],[350,508],[358,502],
[344,475],[352,478],[360,472],
[346,445],[354,448],[362,442]];

var air3Dir = [[259.9,2002],[258.4,1974],[256.9,1947],[257.8,1920],[259.9,1892],[262.9,1878],[268.9,1878],[275,1885],[261.4,1981],[264.4,1961],[267.4,1933],[270.5,1906],
[285.5,1906],[291.5,1912],[297.5,1906],[302,1885],[303.6,1878],[294.5,1899],[288.5,1892],
[279.5,1823],[282.6,1796],[285.6,1768],[288.6,1741],[291.6,1713],[294.6,1686],[297.6,1659],[300.6,1631],[303.6,1604],[306.7,1576],[309.7,1549],[315.7,1521],[321.7,1494],[327.7,1467],[333.8,1446],
[288.6,1864],[293.1,1837],[294.6,1810],[297.6,1782],[300.6,1741],[303.6,1700],[306.7,1686],[309.7,1652],[312.7,1631],[317.2,1604],[321.7,1576],[326.2,1549],[330.8,1521],[336.8,1494],[339.8,1467],
[275,1851],[276.5,1823],[278,1796],[281,1755],[282.6,1713],[285.6,1672],[288.6,1631],[290.1,1590],[293.1,1549],[297.6,1508],[300.6,1467],
[301,1864],[303.6,1837],[302,1810],[300,1785],[302,1760],[304,1735],[306,1710],[305,1690],
[297.6,1422],[302,1425],[306,1419],[310,1423],[314,1426],[318,1420],[322,1424],[326,1421],[330,1425],[334,1419],[338,1423],[342,1426],[346,1420],[350,1424],[354,1421],[358,1425],[362,1419],[365.5,1422],
[312.7,1384],[324.8,1343],[336.8,1329],[348.9,1343],[360.9,1370],[321.7,1316],[333.8,1288],[342.8,1316],[354.9,1357],[305,1360],[300,1330],[310,1300],
[303.6,1260],[308,1263],[313,1257],[318,1261],[323,1264],[328,1258],[333,1262],[338,1259],[343,1263],[348,1257],[353,1261],[358,1264],[363,1258],[368,1262],[373,1259],[379,1261],
[310,1230],[320,1220],[330,1235],[340,1215],[350,1225],[315,1200],[325,1190],[335,1205],[345,1195],[355,1185],
[312.7,1150],[318,1153],[323,1147],[328,1151],[333,1154],[338,1148],[343,1152],[348,1149],[353,1153],[358,1147],[363,1151],[368,1154],[373,1148],[378,1151],[382,1150],
[306.7,1109],[311,1112],[316,1106],[321,1110],[326,1113],[331,1107],[336,1111],[341,1108],[346,1112],[351,1106],[356,1110],[361,1113],[366.9,1109],
[249.3,876],[254,878],[259,874],[264,877],[269,875],[274,879],[279,874],[284,877],[289,875],[294,878],[299,874],[304,877],[309,875],[314,879],[319,874],[324,877],[329,875],[336.8,876],
[306,1050],[313,1055],[320,1045],[327,1052],[334,1048],[341,1055],[348,1045],[355,1050],[362,1055],[369,1045],[375,1050],
[300,1000],[308,1005],[316,995],[324,1002],[332,998],[340,1005],[348,995],[356,1000],[364,1005],[372,995],
[298,950],[306,955],[314,945],[322,952],[330,948],[338,955],[346,945],[354,950],[362,955],[370,945],[378,950],[385,955],
[295,900],[303,905],[311,895],[319,902],[327,898],[335,905],[343,895],[351,900],[359,905],[367,895],[375,900],[383,905],[390,898],
[293,830],[301,835],[309,825],[317,832],[325,828],[333,835],[341,825],[349,830],[357,835],[365,825],[373,830],[381,835],[389,825],[395,830],
[292,780],[300,785],[308,775],[316,782],[324,778],[332,785],[340,775],[348,780],[356,785],[364,775],[372,780],[380,785],[385,778],[406.2,766],
[298,720],[306,725],[314,715],[322,722],[330,718],[338,725],[346,715],[354,720],[362,725],[370,715],[378,720],[386,725],[394,715],[400,720],
[300,670],[308,675],[316,665],[324,672],[332,668],[340,675],[348,665],[356,670],[364,675],[372,665],[380,670],[388,675],[396,665],[404,670],[409.2,697],
[305,600],[313,605],[321,595],[329,602],[337,598],[345,605],[353,595],[361,600],[369,605],[377,595],[385,600],[393,605],[401,595],[409,600],[415.2,594],
[308,532],[316,537],[324,527],[332,534],[340,530],[348,537],[356,527],[364,532],[372,537],[380,527],[388,532],[396,537],[404,527],[412,532],[421,532],
[310,500],[318,505],[326,495],[334,502],[342,498],[350,505],[358,495],[366,500],[374,505],[382,495],[390,500],[398,505],[406,495],[414,500],[422,505],[430,498],
[318,464],[326,469],[334,459],[342,466],[350,462],[358,469],[366,459],[374,464],[382,469],[390,459],[398,464],[406,469],[414,459],[422,464],[430,469],[439.3,464],[445.3,450],[449.9,471],
[325,430],[333,435],[341,425],[349,432],[357,428],[365,435],[373,425],[381,430],[389,435],[397,425],[405,430],[413,435],[421,425],[430,430],
[330,400],[338,405],[346,395],[354,402],[362,398],[370,405],[378,395],[386,400],[395,405],
[337,382],[345,385],[353,378],[361,384],[369,380],[377,386],[382,380],
[288.6,587],[285.6,532],[287.1,477],[288.6,422],[290.1,395],[296.1,368],[269,477],[276.5,642],[279.5,574],[294.6,614],[391.1,1068],[300,420],[305,440]];
var air3DirCore = [[310,1075],[318,1078],[326,1072],[334,1076],[342,1080],[350,1073],[358,1077],[366,1071],
[304,1025],[312,1028],[320,1022],[328,1026],[336,1030],[344,1023],[352,1027],[360,1021],[368,1025],
[302,975],[310,978],[318,972],[326,976],[334,980],[342,973],[350,977],[358,971],[366,975],[374,978],
[299,925],[307,928],[315,922],[323,926],[331,930],[339,923],[347,927],[355,921],[363,925],[371,928],[379,922],
[297,865],[305,868],[313,862],[321,866],[329,870],[337,863],[345,867],[353,861],[361,865],[369,868],[377,862],[385,866],
[296,805],[304,808],[312,802],[320,806],[328,810],[336,803],[344,807],[352,801],[360,805],[368,808],[376,802],[384,806],
[300,750],[308,753],[316,747],[324,751],[332,755],[340,748],[348,752],[356,746],[364,750],[372,753],[380,747],[390,751],
[302,695],[310,698],[318,692],[326,696],[334,700],[342,693],[350,697],[358,691],[366,695],[374,698],[382,692],[392,696],
[306,635],[314,638],[322,632],[330,636],[338,640],[346,633],[354,637],[362,631],[370,635],[378,638],[386,632],[396,636],[406,633],
[310,566],[318,569],[326,563],[334,567],[342,571],[350,564],[358,568],[366,562],[374,566],[382,569],[390,563],[400,567],[410,564],
[314,515],[322,518],[330,512],[338,516],[346,520],[354,513],[362,517],[370,511],[378,515],[386,518],[394,512],[404,516],[416,513],
[322,480],[330,483],[338,477],[346,481],[354,485],[362,478],[370,482],[378,476],[386,480],[394,483],[404,477],[416,481],[428,478],
[330,445],[338,448],[346,442],[354,446],[362,450],[370,443],[378,447],[386,441],[396,445],[408,448],[420,442],
[334,415],[342,418],[350,412],[358,416],[366,420],[374,413],[382,417],[392,411]];

// ---------- drawing ----------
var colX = [[87, 401], [420.7, 734.3], [764.3, 1078]];
var rowY = [[40, 575], [646.7, 1181]];
var blue = "#4C72B0", orange = "#DD8452", red = "#C44E52", ink = "#262626";
var fam = '"Liberation Sans", Arial, Helvetica, sans-serif';

var panels = [
  {c: 0, r: 0, dom: [0.02, 13.47], ticks: spd1Ticks, air: air1Spd.concat(air1SpdCore), alt: modelAltLow.concat(altUp1), val: spd1Val, err: spd1Err, wb: wbeaSpd1, wbErr: wbeaSpd1Err, leg: "left", xlab: "Wind Spd. (m/s)"},
  {c: 1, r: 0, dom: [-0.335, 6.23], ticks: spd2Ticks, air: air2Spd.concat(air2SpdCore), alt: modelAltLow.concat(altUp2), val: spd2Val, err: spd2Err, wb: wbeaSpd2, wbErr: wbeaSpd2Err, leg: "right", xlab: "Wind Spd. (m/s)"},
  {c: 2, r: 0, dom: [1.03, 18.96], ticks: spd3Ticks, air: air3Spd.concat(air3SpdCore), alt: modelAltLow.concat(altUp3), val: spd3Val, err: spd3Err, wb: wbeaSpd3, wbErr: wbeaSpd3Err, leg: "left", xlab: "Wind Spd. (m/s)"},
  {c: 0, r: 1, dom: [186.1, 347.8], ticks: dir1Ticks, air: air1Dir.concat(air1DirCore), alt: modelAltLow.concat(altUp1), val: dir1Val, err: dir1Err, wb: wbeaDir1, wbErr: wbeaDir1Err, leg: "left", xlab: "Wind Dir. (degree)"},
  {c: 1, r: 1, dom: [-20.4, 380], ticks: dir2Ticks, air: air2Dir.concat(air2DirCore), alt: modelAltLow.concat(altUp2), val: dir2Val, err: dir2Err, wb: wbeaDir2, wbErr: wbeaDir2Err, leg: "right", xlab: "Wind Dir. (degree)"},
  {c: 2, r: 1, dom: [177.8, 461.8], ticks: dir3Ticks, labels: dir3TickLabels, air: air3Dir.concat(air3DirCore), alt: modelAltLow.concat(altUp3), val: dir3Val, err: dir3Err, wb: wbeaDir3, wbErr: wbeaDir3Err, leg: "right", xlab: "Wind Dir. (degree)"}
];

var svg = d3.select("#chart");
svg.append("rect").attr("width", 1075).attr("height", 1230).attr("fill", "#fff");

function diamond(cx, cy, w, h) {
  return "M" + cx + "," + (cy - h / 2) + "L" + (cx + w / 2) + "," + cy + "L" + cx + "," + (cy + h / 2) + "L" + (cx - w / 2) + "," + cy + "Z";
}

panels.forEach(function(p, i) {
  var x0 = colX[p.c][0], x1 = colX[p.c][1], y0 = rowY[p.r][0], y1 = rowY[p.r][1];
  var x = d3.scaleLinear().domain(p.dom).range([x0, x1]);
  var y = d3.scaleLinear().domain([200, 2400]).range([y1, y0]);
  var g = svg.append("g");

  g.append("clipPath").attr("id", "clip" + i).append("rect")
    .attr("x", x0).attr("y", y0).attr("width", x1 - x0).attr("height", y1 - y0);

  g.append("rect").attr("x", x0).attr("y", y0).attr("width", x1 - x0).attr("height", y1 - y0).attr("fill", "#EAEAF2");

  // grid
  g.selectAll(".gx").data(p.ticks).enter().append("line")
    .attr("x1", function(d) { return x(d); }).attr("x2", function(d) { return x(d); })
    .attr("y1", y0).attr("y2", y1).attr("stroke", "#fff").attr("stroke-width", 1.3);
  g.selectAll(".gy").data(yTicks).enter().append("line")
    .attr("x1", x0).attr("x2", x1)
    .attr("y1", function(d) { return y(d); }).attr("y2", function(d) { return y(d); })
    .attr("stroke", "#fff").attr("stroke-width", 1.3);

  // axes (labels only)
  var xa = d3.axisBottom(x).tickValues(p.ticks).tickSize(0).tickPadding(11.5).tickFormat(d3.format("d"));
  if (p.labels) xa.tickFormat(function(d, k) { return p.labels[k]; });
  var gx = g.append("g").attr("transform", "translate(0," + y1 + ")").call(xa);
  gx.select(".domain").remove();
  gx.selectAll("text").attr("font-size", 14.5).attr("font-family", fam).attr("fill", ink);

  if (p.c === 0) {
    var ya = d3.axisLeft(y).tickValues(yTicks).tickSize(0).tickPadding(11).tickFormat(d3.format("d"));
    var gy = g.append("g").attr("transform", "translate(" + x0 + ",0)").call(ya);
    gy.select(".domain").remove();
    gy.selectAll("text").attr("font-size", 14.5).attr("font-family", fam).attr("fill", ink);
    g.append("text").attr("transform", "translate(25," + ((y0 + y1) / 2) + ") rotate(-90)")
      .attr("text-anchor", "middle").attr("dy", "0.35em")
      .attr("font-size", 24.5).attr("font-family", fam).attr("fill", ink).text("Altitude (m)");
  }

  g.append("text").attr("x", (x0 + x1) / 2).attr("y", y1 + 44.5).attr("text-anchor", "middle")
    .attr("font-size", 23).attr("font-family", fam).attr("fill", ink).text(p.xlab);

  if (p.r === 0) {
    g.append("text").attr("x", (x0 + x1) / 2).attr("y", 33.3).attr("text-anchor", "middle")
      .attr("font-size", 26).attr("font-family", fam).attr("fill", ink).text(titles[p.c]);
  }

  var plot = g.append("g").attr("clip-path", "url(#clip" + i + ")");

  // aircraft
  plot.append("g").selectAll("circle").data(p.air).enter().append("circle")
    .attr("cx", function(d) { return x(d[0]); })
    .attr("cy", function(d) { return y(d[1]); })
    .attr("r", 3.0).attr("fill", blue).attr("fill-opacity", 0.68);

  // model
  var model = p.alt.map(function(a, k) { return {alt: a, v: p.val[k], e: p.err[k]}; });
  plot.append("g").selectAll("line").data(model).enter().append("line")
    .attr("x1", function(d) { return x(d.v - d.e); })
    .attr("x2", function(d) { return x(d.v + d.e); })
    .attr("y1", function(d) { return y(d.alt); })
    .attr("y2", function(d) { return y(d.alt); })
    .attr("stroke", orange).attr("stroke-width", 1.9);
  plot.append("path").datum(model)
    .attr("d", d3.line().x(function(d) { return x(d.v); }).y(function(d) { return y(d.alt); }))
    .attr("fill", "none").attr("stroke", orange).attr("stroke-width", 2);

  // WBEA
  var wb = p.wb.map(function(v, k) { return {v: v, e: p.wbErr[k]}; });
  plot.append("g").selectAll("line").data(wb).enter().append("line")
    .attr("x1", function(d) { return x(d.v - d.e); })
    .attr("x2", function(d) { return x(d.v + d.e); })
    .attr("y1", y(wbeaAlt)).attr("y2", y(wbeaAlt))
    .attr("stroke", red).attr("stroke-width", 3.5);
  plot.append("g").selectAll("path").data(wb).enter().append("path")
    .attr("d", function(d) { return diamond(x(d.v), y(wbeaAlt), 11, 18); })
    .attr("fill", red);

  // legend
  var lw = 128.6, lh = 86;
  var lx = p.leg === "left" ? x0 + 9.7 : x1 - 9.7 - lw;
  var ly = y0 + 9.5;
  var lg = g.append("g");
  lg.append("rect").attr("x", lx).attr("y", ly).attr("width", lw).attr("height", lh).attr("rx", 4)
    .attr("fill", "#EAEAF2").attr("fill-opacity", 0.8).attr("stroke", "#cccccc").attr("stroke-opacity", 0.8);
  var rows = [ly + 14, ly + 41.7, ly + 69];
  lg.append("circle").attr("cx", lx + 26.3).attr("cy", rows[0]).attr("r", 2.3).attr("fill", blue).attr("fill-opacity", 0.6);
  lg.append("line").attr("x1", lx + 6.6).attr("x2", lx + 46.6).attr("y1", rows[1]).attr("y2", rows[1])
    .attr("stroke", orange).attr("stroke-width", 2);
  lg.append("line").attr("x1", lx + 6.6).attr("x2", lx + 46.6).attr("y1", rows[2]).attr("y2", rows[2])
    .attr("stroke", red).attr("stroke-width", 3.5);
  lg.append("path").attr("d", diamond(lx + 26.6, rows[2], 12, 20)).attr("fill", red);
  ["Aircraft", "Model", "WBEA"].forEach(function(t, k) {
    lg.append("text").attr("x", lx + 61.6).attr("y", rows[k]).attr("dy", "0.35em")
      .attr("font-size", 18.5).attr("font-family", fam).attr("fill", ink).text(t);
  });
});
</script>
</body>
</html>
